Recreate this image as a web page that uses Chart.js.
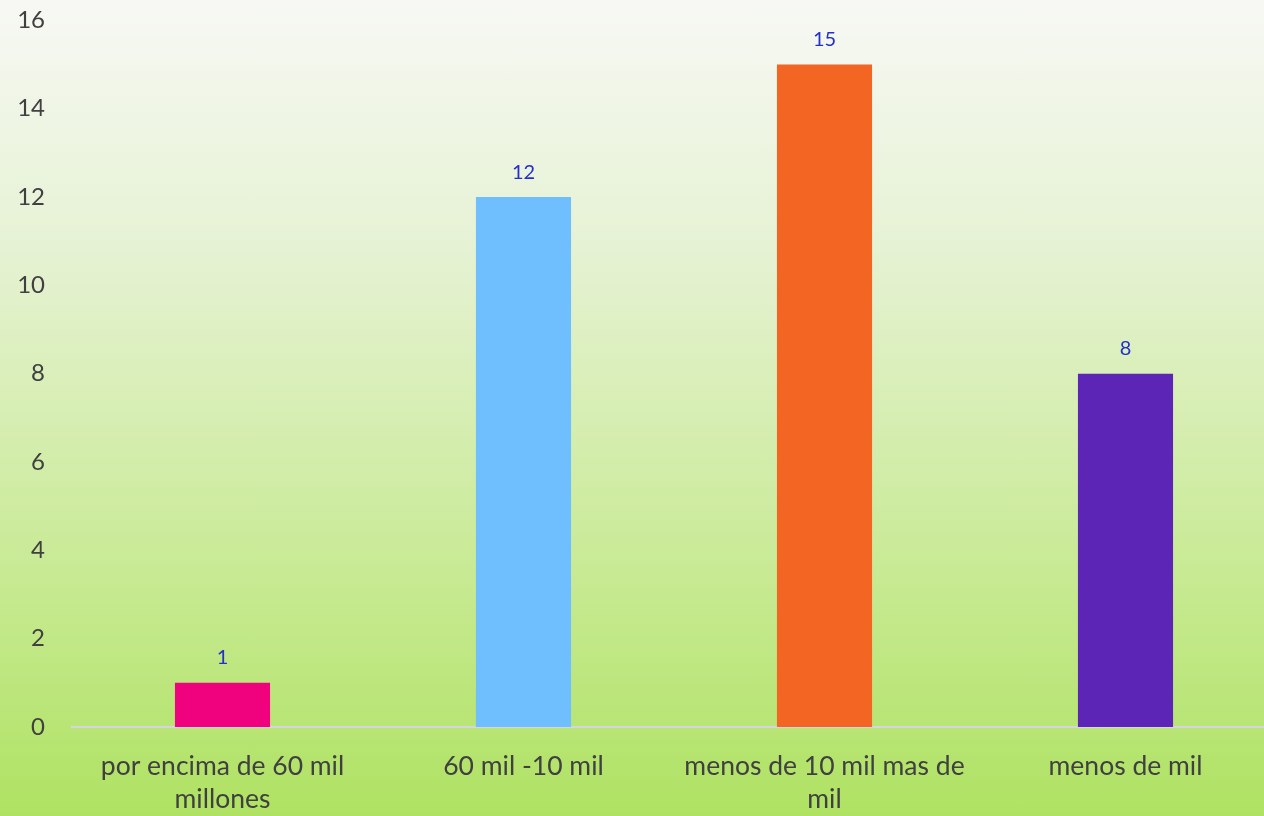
<!DOCTYPE html>
<html>
<head>
<meta charset="utf-8">
<script src="https://cdn.jsdelivr.net/npm/chart.js@4.4.1/dist/chart.umd.min.js"></script>
<style>
  html, body { margin: 0; padding: 0; }
  body {
    width: 1264px; height: 816px; overflow: hidden; position: relative;
    background: linear-gradient(to bottom, #f7f8f4 0%, #e6f2d4 30%, #c8ea94 70%, #afe262 100%);
  }
  /* plot runs slightly past the top and right edges of the page */
  #wrap { position: absolute; left: 0; top: -21px; width: 1276px; height: 837px; }
</style>
</head>
<body>
<div id="wrap"><canvas id="chart"></canvas></div>
<script>
const categories = [
  ['por encima de 60 mil', 'millones'],
  '60 mil -10 mil',
  ['menos de 10 mil mas de', 'mil'],
  'menos de mil'
];
const values = [1, 12, 15, 8];
const barColors = ['#f0027f', '#6fbfff', '#f26522', '#5c25b5'];

const FONT = 'Lato, "Open Sans", sans-serif';

// Writes each bar's value just above it
const valueLabels = {
  id: 'valueLabels',
  afterDatasetsDraw(chart) {
    const ctx = chart.ctx;
    const meta = chart.getDatasetMeta(0);
    ctx.save();
    ctx.font = '20px ' + FONT;
    ctx.fillStyle = '#2430c8';
    ctx.textAlign = 'center';
    ctx.textBaseline = 'middle';
    meta.data.forEach((bar, i) => {
      ctx.fillText(String(values[i]), bar.x, bar.y - 25);
    });
    ctx.restore();
  }
};

new Chart(document.getElementById('chart'), {
  type: 'bar',
  data: {
    labels: categories,
    datasets: [{
      data: values,
      backgroundColor: barColors,
      borderWidth: 0,
      categoryPercentage: 1,
      barPercentage: 0.316
    }]
  },
  options: {
    responsive: true,
    maintainAspectRatio: false,
    animation: false,
    layout: { padding: { top: 0, right: 0, bottom: 0, left: 0 } },
    plugins: {
      legend: { display: false },
      tooltip: { enabled: false }
    },
    scales: {
      x: {
        grid: { display: false, drawTicks: false },
        border: { display: true, color: '#d4d4e2', width: 2 },
        ticks: {
          color: '#404040',
          font: { family: FONT, size: 26.5, lineHeight: 1.28 },
          padding: 22,
          maxRotation: 0,
          autoSkip: false
        },
        afterFit(scale) { scale.height = 89; }
      },
      y: {
        min: 0, max: 16,
        grid: { display: false, drawTicks: false },
        border: { display: false },
        ticks: {
          stepSize: 2,
          color: '#404040',
          font: { family: FONT, size: 24 },
          padding: 27
        },
        afterFit(scale) { scale.width = 72; }
      }
    }
  },
  plugins: [valueLabels]
});
</script>
</body>
</html>
